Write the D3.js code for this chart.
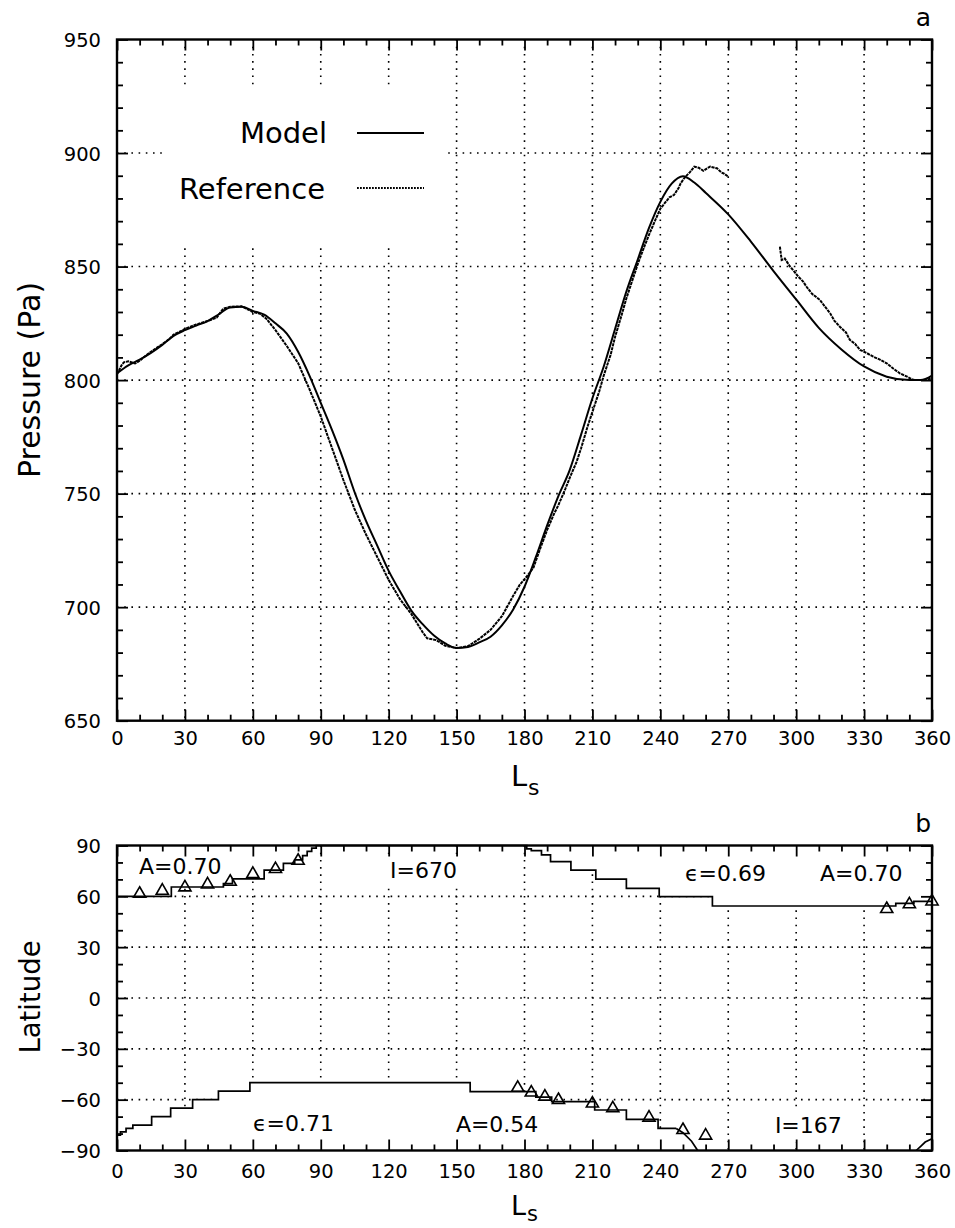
<!DOCTYPE html>
<html>
<head>
<meta charset="utf-8">
<script src="https://d3js.org/d3.v7.min.js"></script>
<style>
  body { margin: 0; background: #fff; }
  svg text { font-family: "DejaVu Sans", sans-serif; fill: #000; }
</style>
</head>
<body>
<svg id="fig" width="955" height="1228"></svg>
<script>
// ---------- panel a : surface pressure (Pa) vs Ls ----------
const modelLs = [0,5,10,15,20,25,30,35,40,45,50,55,60,65,70,75,80,85,90,95,100,105,110,115,120,125,130,135,140,145,150,155,160,165,170,175,180,185,190,195,200,205,210,215,220,225,230,235,240,245,250,255,260,270,280,290,300,310,320,330,340,350,355,360];
const modelP  = [803,806.5,809,812,815.5,819.5,822,824,826,829,832,832.3,830.5,828.8,825,820.5,812.5,802,790,778,765,750.5,738,727,716,707,698.5,692.5,687.5,684,682,682.5,684.5,687,692,699,709,722,736,749,760.5,776,792,806,822.5,839,853,867,878.5,886.5,889.8,887,882.5,873,861,848,835.5,823,813.5,806,801.5,800,800,802];

// reference record; null = no data (gap between 270 and 292)
const refLs = [0,2,3,5,8,10,13,15,18,20,23,25,28,30,35,40,44,47,50,55,58,60,63,66,70,75,80,85,90,95,100,105,110,115,120,125,130,135,137,141,145,150,155,160,165,170,175,178,181,184,187,
  190,193,195,198,200,203,205,208,210,213,215,218,220,223,225,228,230,233,235,238,240,242,244,246,248,249,251,253,255,257,259,261,262,264,265,267,268,270,
  280,
  292.8,293.6,295,297.3,299,301,303,304.6,307,310.5,313,315,317,319.3,322,323.7,326,328.2,331,334.1,337,340,343,345.8,349,351.7,355,357.6,360];
const refP = [802.5,806.5,807.8,808.3,807.3,808.5,811,812.5,814.5,815.8,818,820,821.5,822.5,824.5,826,827.5,831.5,832.3,832.5,831,830,829.3,827,822,815,807.5,796,784,770,756,743,732,722,712,703.5,697,689,686.3,685.5,683,682,682.8,686,690,696,705,710,713.5,717.5,726,
  734,741,745,752,757,764,770,780,786,795,802,811,819,829,836,845,851,859,864,871,875.5,878,880.5,881.5,884.5,886.7,889.5,891.5,894,893.5,892.2,893.5,894,893.5,893.3,891.4,891,889.6,
  null,
  858.8,852.9,853.5,850,848,845.5,843.5,841.1,838,835.3,832,829.4,826,823.5,821,817.7,816,813.3,812,810.3,809,807.4,805,803,801.5,800.1,800,800.1,800.8];

// ---------- panel b : cap edge latitude vs Ls ----------
const northLs  = [0,24,47,51,65,73.5,78.5,82,84,86,88,181,183,187.5,191.5,200.5,211.5,225,239.5,263,344,352,360];
const northLat = [60,65.5,67.5,70.3,75.5,79.5,81.5,84,86.5,88.5,90,88,87,84.5,80.5,75.5,70.2,64.7,59.8,54.3,55.8,57,57];

const southLs  = [0,1.5,4,7,15.3,23.7,33.4,44.8,58.7,156,185,192,211,225,239,247];
const southLat = [-81,-79,-77,-75,-70,-65,-60,-55,-50,-55.3,-58.5,-61.2,-66.1,-71.6,-77,-77];
const southTailLs  = [247,250,253.8,256.5];
const southTailLat = [-77,-79.5,-84.5,-90];
const southWrapLs  = [353,355,357,360];
const southWrapLat = [-90,-87.5,-85,-83];

// observed cap edges (triangles)
const obsNorthLs  = [10,20,30,40,50,60,70,80,340,350,360];
const obsNorthLat = [61.5,63.3,65.3,67,68.6,73.2,76.1,81,52.5,55.3,57];
const obsSouthLs  = [177,183,189,195,210,219,235,250,260];
const obsSouthLat = [-53,-55.8,-58.2,-60.2,-62.3,-65.1,-70.6,-77.9,-81.2];

const capLabels = ['A=0.70','I=670','\u03f5=0.69','A=0.70','\u03f5=0.71','A=0.54','I=167'];

// ---------- helpers ----------
const zip = (a, b, ka, kb) => a.map((v, i) => ({[ka]: v, [kb]: b[i]}));

const svg = d3.select('#fig');

const x  = d3.scaleLinear().domain([0,360]).range([117,932]);
const yA = d3.scaleLinear().domain([650,950]).range([720.7,39.5]);
const yB = d3.scaleLinear().domain([-90,90]).range([1150.5,845.5]);

const xMajor = d3.range(0,361,30);
const xMinor = d3.range(0,361,10).filter(d => d % 30);

function grid(g, y, yVals) {
  const [yb, yt] = y.range();
  g.selectAll('line.v').data(xMajor.slice(1,-1)).join('line').attr('class','v')
    .attr('x1', d => x(d)).attr('x2', d => x(d)).attr('y1', yt).attr('y2', yb);
  g.selectAll('line.h').data(yVals).join('line').attr('class','h')
    .attr('x1', x(0)).attr('x2', x(360)).attr('y1', d => y(d)).attr('y2', d => y(d));
  g.selectAll('line').attr('stroke','#000').attr('stroke-width',1.6)
    .attr('stroke-dasharray','1.6,5.6');
}

function frame(g, y, yMajor, yMinor, labelY) {
  const [yb, yt] = y.range();
  const ax = (axis, tx, ty) => g.append('g').attr('transform', `translate(${tx},${ty})`).call(axis);
  // major + minor ticks on all four sides, pointing in
  ax(d3.axisBottom(x).tickValues(xMajor).tickSize(-11).tickSizeOuter(0), 0, yb)
    .call(a => a.selectAll('text').attr('y', labelY).attr('dy', 0).attr('font-size', 19.5));
  ax(d3.axisBottom(x).tickValues(xMinor).tickSize(-6).tickFormat(''), 0, yb);
  ax(d3.axisTop(x).tickValues(xMajor).tickSize(-11).tickFormat(''), 0, yt);
  ax(d3.axisTop(x).tickValues(xMinor).tickSize(-6).tickFormat(''), 0, yt);
  ax(d3.axisLeft(y).tickValues(yMajor).tickSize(-11).tickPadding(16), x(0), 0)
    .call(a => a.selectAll('text').attr('font-size', 19.5).attr('dy', '0.36em'));
  ax(d3.axisLeft(y).tickValues(yMinor).tickSize(-6).tickFormat(''), x(0), 0);
  ax(d3.axisRight(y).tickValues(yMajor).tickSize(-11).tickFormat(''), x(360), 0);
  ax(d3.axisRight(y).tickValues(yMinor).tickSize(-6).tickFormat(''), x(360), 0);
  g.selectAll('.domain').remove();
  g.selectAll('.tick line').attr('stroke','#000').attr('stroke-width',1.8);
  g.selectAll('text').attr('font-family','DejaVu Sans, sans-serif').attr('fill','#000');
  g.append('rect').attr('x', x(0)).attr('y', yt).attr('width', x(360)-x(0)).attr('height', yb-yt)
    .attr('fill','none').attr('stroke','#000').attr('stroke-width',2.4);
}

// ================= panel a =================
const pa = svg.append('g');
grid(pa.append('g'), yA, [700,750,800,850,900]);

// legend area is blanked out
pa.append('rect').attr('x',163).attr('y',90).attr('width',285).attr('height',153).attr('fill','#fff');

frame(pa.append('g'), yA, d3.range(650,951,50), d3.range(650,951,10).filter(d => d % 50), 24.5);

const lineA = d3.line().x(d => x(d.ls)).y(d => yA(d.p)).curve(d3.curveMonotoneX);

pa.append('path').datum(zip(modelLs, modelP, 'ls', 'p'))
  .attr('d', lineA).attr('fill','none').attr('stroke','#000').attr('stroke-width',2);

pa.append('path').datum(zip(refLs, refP, 'ls', 'p'))
  .attr('d', d3.line().defined(d => d.p !== null).x(d => x(d.ls)).y(d => yA(d.p)))
  .attr('fill','none').attr('stroke','#000').attr('stroke-width',2)
  .attr('stroke-dasharray','3.2,0.8');

// legend
const leg = pa.append('g');
leg.append('text').attr('x',327).attr('y',143).attr('text-anchor','end').attr('font-size',29).text('Model');
leg.append('text').attr('x',325).attr('y',199).attr('text-anchor','end').attr('font-size',29).text('Reference');
leg.append('line').attr('x1',357).attr('x2',424).attr('y1',133).attr('y2',133)
  .attr('stroke','#000').attr('stroke-width',2);
leg.append('line').attr('x1',357).attr('x2',424).attr('y1',188).attr('y2',188)
  .attr('stroke','#000').attr('stroke-width',1.8).attr('stroke-dasharray','1.8,1.2');

pa.append('text').attr('x',931).attr('y',26).attr('text-anchor','end').attr('font-size',25).text('a');
pa.append('text').attr('transform','translate(40,380) rotate(-90)').attr('text-anchor','middle')
  .attr('font-size',30).text('Pressure (Pa)');
pa.append('text').attr('x',511).attr('y',786).attr('font-size',29).text('L');
pa.append('text').attr('x',528).attr('y',795).attr('font-size',22).text('s');

// ================= panel b =================
const pb = svg.append('g');
grid(pb.append('g'), yB, [-60,-30,0,30,60]);

// no grid inside the cap regions
const areaN = d3.area().x(d => x(d.ls)).y0(yB(90)).y1(d => yB(d.lat));
const areaS = d3.area().x(d => x(d.ls)).y0(yB(-90)).y1(d => yB(d.lat));
const north = zip(northLs, northLat, 'ls', 'lat');
const south = zip(southLs, southLat, 'ls', 'lat');
const southTail = zip(southTailLs, southTailLat, 'ls', 'lat');
const southWrap = zip(southWrapLs, southWrapLat, 'ls', 'lat');

pb.append('path').datum(north).attr('d', areaN.curve(d3.curveStepAfter)).attr('fill','#fff');
pb.append('path').datum(south).attr('d', areaS.curve(d3.curveStepAfter)).attr('fill','#fff');
pb.append('path').datum(southTail).attr('d', areaS.curve(d3.curveLinear)).attr('fill','#fff');
pb.append('path').datum(southWrap).attr('d', areaS.curve(d3.curveLinear)).attr('fill','#fff');

const boxes = pb.append('g');

frame(pb.append('g'), yB, d3.range(-90,91,30), d3.range(-90,91,10).filter(d => d % 30), 27);

const stepLine = d3.line().x(d => x(d.ls)).y(d => yB(d.lat));
[[north, d3.curveStepAfter], [south, d3.curveStepAfter], [southTail, d3.curveLinear], [southWrap, d3.curveLinear]]
  .forEach(([data, c]) => {
    pb.append('path').datum(data).attr('d', stepLine.curve(c))
      .attr('fill','none').attr('stroke','#000').attr('stroke-width',1.7);
  });

const tri = d3.symbol().type(d3.symbolTriangle).size(64);
pb.selectAll('path.obs')
  .data(zip(obsNorthLs, obsNorthLat, 'ls', 'lat').concat(zip(obsSouthLs, obsSouthLat, 'ls', 'lat')))
  .join('path').attr('class','obs')
  .attr('transform', d => `translate(${x(d.ls)},${yB(d.lat)})`)
  .attr('d', tri).attr('fill','none').attr('stroke','#000').attr('stroke-width',1.6);

// cap labels, placed in (Ls, latitude)
const capLabelPos = [[9.7,73.2],[120.6,70.8],[250.9,69.1],[310.5,69.1],[60.1,-78.5],[149.7,-79.1],[290.6,-79.7]];
capLabels.forEach((t, i) => {
  const tx = pb.append('text').attr('x', x(capLabelPos[i][0])).attr('y', yB(capLabelPos[i][1]))
    .attr('font-size',22).text(t);
  const b = tx.node().getBBox();
  boxes.append('rect').attr('x', b.x-6).attr('y', b.y-4).attr('width', b.width+12).attr('height', b.height+8)
    .attr('fill','#fff');
});

pb.append('text').attr('x',931).attr('y',832).attr('text-anchor','end').attr('font-size',25).text('b');
pb.append('text').attr('transform','translate(40,997) rotate(-90)').attr('text-anchor','middle')
  .attr('font-size',27.5).text('Latitude');
pb.append('text').attr('x',511).attr('y',1215).attr('font-size',27).text('L');
pb.append('text').attr('x',527).attr('y',1221).attr('font-size',21).text('s');
</script>
</body>
</html>
